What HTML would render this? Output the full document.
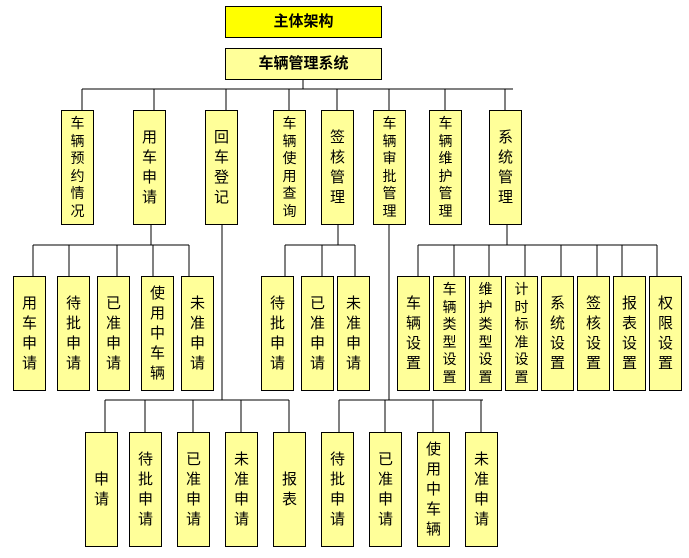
<!DOCTYPE html>
<html><head><meta charset="utf-8"><style>
body{margin:0;width:689px;height:558px;background:#fff;position:relative;overflow:hidden;font-family:"Liberation Sans","Noto Sans CJK SC","WenQuanYi Zen Hei",sans-serif}
.b{position:absolute;background:#ffff99;border:1px solid #000;box-sizing:border-box;display:flex;align-items:center;justify-content:center;text-align:center;font-size:15px;line-height:20px;width:33px;height:115px}
.v{width:16px;word-break:break-all}
.s .v{font-size:14px;line-height:17.5px}
svg{position:absolute;left:0;top:0}
</style></head><body>
<svg width="689" height="558"><g stroke="#000" stroke-width="1" fill="none" shape-rendering="crispEdges">
<path d="M303 79V89M82 89H513M82 89V110M154 89V110M226 89V110M289 89V110M337 89V110M389 89V110M445 89V110M505 89V110"/>
<path d="M151 224V245M33 245H189M33 245V276M69 245V276M117 245V276M153 245V276M189 245V276"/>
<path d="M338 224V245M285 245H355M285 245V276M322 245V276M355 245V276"/>
<path d="M507 224V245M418 245H657M418 245V276M454 245V276M489 245V276M525 245V276M561 245V276M597 245V276M622 245V276M657 245V276"/>
<path d="M222 224V400M105 400H289M105 400V432M145 400V432M193 400V432M241 400V432M289 400V432"/>
<path d="M389 224V400M339 400H483M339 400V432M385 400V432M433 400V432M481 400V432"/>
</g></svg>
<div class="b" style="left:225px;top:6px;width:157px;height:32px;background:#ffff00;font-weight:bold;font-size:15px">主体架构</div>
<div class="b" style="left:225px;top:48px;width:157px;height:32px;font-weight:bold;font-size:15px">车辆管理系统</div>

<div class="b s" style="left:61px;top:110px"><span class="v">车辆预约情况</span></div>
<div class="b" style="left:133px;top:110px"><span class="v">用车申请</span></div>
<div class="b" style="left:205px;top:110px"><span class="v">回车登记</span></div>
<div class="b s" style="left:273px;top:110px"><span class="v">车辆使用查询</span></div>
<div class="b" style="left:321px;top:110px"><span class="v">签核管理</span></div>
<div class="b s" style="left:373px;top:110px"><span class="v">车辆审批管理</span></div>
<div class="b s" style="left:429px;top:110px"><span class="v">车辆维护管理</span></div>
<div class="b" style="left:489px;top:110px"><span class="v">系统管理</span></div>

<div class="b" style="left:13px;top:276px"><span class="v">用车申请</span></div>
<div class="b" style="left:57px;top:276px"><span class="v">待批申请</span></div>
<div class="b" style="left:97px;top:276px"><span class="v">已准申请</span></div>
<div class="b" style="left:141px;top:276px"><span class="v">使用中车辆</span></div>
<div class="b" style="left:181px;top:276px"><span class="v">未准申请</span></div>

<div class="b" style="left:261px;top:276px"><span class="v">待批申请</span></div>
<div class="b" style="left:301px;top:276px"><span class="v">已准申请</span></div>
<div class="b" style="left:337px;top:276px"><span class="v">未准申请</span></div>

<div class="b" style="left:397px;top:276px"><span class="v">车辆设置</span></div>
<div class="b s" style="left:433px;top:276px"><span class="v">车辆类型设置</span></div>
<div class="b s" style="left:469px;top:276px"><span class="v">维护类型设置</span></div>
<div class="b s" style="left:505px;top:276px"><span class="v">计时标准设置</span></div>
<div class="b" style="left:541px;top:276px"><span class="v">系统设置</span></div>
<div class="b" style="left:577px;top:276px"><span class="v">签核设置</span></div>
<div class="b" style="left:613px;top:276px"><span class="v">报表设置</span></div>
<div class="b" style="left:649px;top:276px"><span class="v">权限设置</span></div>

<div class="b" style="left:85px;top:432px"><span class="v">申请</span></div>
<div class="b" style="left:129px;top:432px"><span class="v">待批申请</span></div>
<div class="b" style="left:177px;top:432px"><span class="v">已准申请</span></div>
<div class="b" style="left:225px;top:432px"><span class="v">未准申请</span></div>
<div class="b" style="left:273px;top:432px"><span class="v">报表</span></div>

<div class="b" style="left:321px;top:432px"><span class="v">待批申请</span></div>
<div class="b" style="left:369px;top:432px"><span class="v">已准申请</span></div>
<div class="b" style="left:417px;top:432px"><span class="v">使用中车辆</span></div>
<div class="b" style="left:465px;top:432px"><span class="v">未准申请</span></div>
</body></html>
